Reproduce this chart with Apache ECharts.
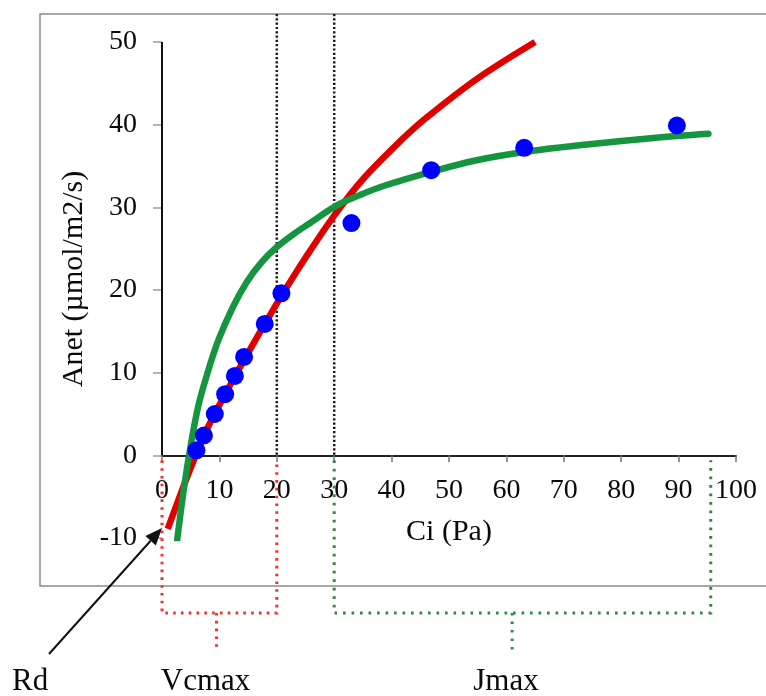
<!DOCTYPE html>
<html>
<head>
<meta charset="utf-8">
<script src="https://cdn.jsdelivr.net/npm/echarts@6/dist/echarts.min.js"></script>
<style>
html,body{margin:0;padding:0;background:#fff;}
#chart{width:766px;height:696px;}
</style>
</head>
<body>
<div id="chart"></div>
<script>
// ---- data ----
const xTicks = [0, 10, 20, 30, 40, 50, 60, 70, 80, 90, 100];
const yTicks = [-10, 0, 10, 20, 30, 40, 50];

// measured points (blue dots)
const obsCi = [6.0, 7.3, 9.2, 11.0, 12.7, 14.3, 17.9, 20.8, 33.0, 46.9, 63.1, 89.7];
const obsA  = [0.6, 2.4, 5.0, 7.4, 9.6, 11.9, 15.9, 19.6, 28.1, 34.5, 37.2, 39.9];

// Rubisco-limited (Vcmax) fitted curve, red
const vcCi = [1.0, 3.5, 6.0, 8.0, 10, 12.5, 15, 18, 21, 25, 30, 35, 41.5, 46, 55, 65];
const vcA  = [-8.9, -4.2, 0.2, 3.4, 6.1, 9.3, 12.4, 16.0, 19.5, 23.9, 29.0, 33.4, 38.0, 40.8, 45.6, 50];

// RuBP-regeneration-limited (Jmax) fitted curve, green
const jCi = [2.65, 3.7, 4.76, 6.3, 7.9, 9.8, 12.4, 14.8, 17.4, 20.0, 23.0, 25.8, 30.4, 34.5, 39.1, 46.9, 54.8, 63.1, 74, 85.6, 95.2];
const jA  = [-10.2, -4.6, 0.2, 5.9, 9.9, 13.9, 18.0, 21.0, 23.4, 25.2, 26.8, 28.1, 30.2, 31.5, 32.7, 34.3, 35.7, 36.7, 37.6, 38.4, 38.9];

// annotation anchors (in data units)
const rdPoint = [0, -8.8];          // Rd intercept pointed at by the arrow
const limitLines = [20, 30];        // black dotted transition lines
const vcRange = [0, 20, 9.5];       // left, right, tick position of Vcmax bracket
const jRange  = [30, 95.6, 61];     // left, right, tick position of Jmax bracket
const labels = { rd: 'Rd', vc: 'Vcmax', j: 'Jmax' };

const serif = "'Liberation Serif', 'DejaVu Serif', serif";
const zip = (a, b) => a.map((v, i) => [v, b[i]]);

const chart = echarts.init(document.getElementById('chart'), null, { renderer: 'canvas' });

chart.setOption({
  animation: false,
  backgroundColor: '#fff',
  grid: { left: 162, right: 30, top: 42, bottom: 158, containLabel: false },
  xAxis: {
    type: 'value', min: 0, max: 100, interval: 10, position: 'bottom',
    name: 'Ci (Pa)', nameLocation: 'middle', nameGap: 62,
    nameTextStyle: { fontFamily: serif, fontSize: 30, color: '#0a0a0a' },
    axisLine: { show: true, onZero: false, lineStyle: { color: '#222', width: 2 } },
    axisTick: { show: true, length: 7, lineStyle: { color: '#777', width: 1.5 } },
    axisLabel: { fontFamily: serif, fontSize: 28, color: '#0a0a0a', margin: 21,
      formatter: v => xTicks.includes(v) ? String(v) : '' },
    splitLine: { show: false }
  },
  yAxis: {
    type: 'value', min: -10, max: 50, interval: 10,
    name: 'Anet (µmol/m2/s)', nameLocation: 'middle', nameGap: 64,
    nameTextStyle: { fontFamily: serif, fontSize: 30, color: '#0a0a0a', padding: [0, 0, 0, 22] },
    axisLine: { show: false },
    axisTick: { show: true, length: 9, lineStyle: { color: '#999', width: 1.5 } },
    axisLabel: { fontFamily: serif, fontSize: 28, color: '#0a0a0a', margin: 25,
      formatter: v => yTicks.includes(v) ? String(v) : '' },
    splitLine: { show: false }
  },
  series: [
    {
      name: 'Vcmax', type: 'line', data: zip(vcCi, vcA), smooth: 0.35,
      showSymbol: false, symbol: 'none', z: 3,
      lineStyle: { color: '#e00000', width: 6.5 }
    },
    {
      name: 'Jmax', type: 'line', data: zip(jCi, jA), smooth: 0.35,
      showSymbol: false, symbol: 'none', z: 4,
      lineStyle: { color: '#15953f', width: 6.5, cap: 'round' }
    },
    {
      name: 'Observed', type: 'scatter', data: zip(obsCi, obsA), z: 5,
      symbol: 'circle', symbolSize: 18,
      itemStyle: { color: '#0000ff', opacity: 1 }
    }
  ]
});

// ---- annotations positioned through the chart's own scales ----
const P = (x, y) => chart.convertToPixel({ gridIndex: 0 }, [x, y]);
const y0 = P(0, 0)[1];
const yMin = P(0, -10)[1];
const boxTop = 14, boxBottom = 586, brY = 613, brTickY = 650, brTop = y0 + 5;

const g = [];
// outer frame
g.push({ type: 'rect', shape: { x: 40, y: boxTop, width: 740, height: boxBottom - boxTop },
  style: { fill: null, stroke: '#8c8c8c', lineWidth: 1.5 }, z: 0, silent: true });
// y-axis line (from 0 to 50 only, as in the reference)
const ya = P(0, 0), yb = P(0, 50);
g.push({ type: 'line', shape: { x1: ya[0], y1: ya[1], x2: yb[0], y2: yb[1] },
  style: { stroke: '#111', lineWidth: 2 }, z: 10, silent: true });
// black dotted limit lines
limitLines.forEach(c => {
  const px = P(c, 0)[0];
  g.push({ type: 'line', shape: { x1: px, y1: boxTop, x2: px, y2: y0 },
    style: { stroke: '#1a1a1a', lineWidth: 2.5, lineDash: [2.2, 2.1] }, z: 1, silent: true });
});
// brackets
function bracket(r, color, dash) {
  const xl = P(r[0], 0)[0], xr = P(r[1], 0)[0], xm = P(r[2], 0)[0];
  g.push({ type: 'polyline', shape: { points: [[xl, brTop], [xl, brY], [xr, brY], [xr, brTop]] },
    style: { stroke: color, lineWidth: 3, lineDash: dash, fill: null }, z: 1, silent: true });
  g.push({ type: 'line', shape: { x1: xm, y1: brY, x2: xm, y2: brTickY },
    style: { stroke: color, lineWidth: 3, lineDash: dash }, z: 1, silent: true });
}
bracket(vcRange, '#ff2a2a', [2.6, 5.2]);
bracket(jRange, '#2e8b3e', [2.6, 5.9]);

// arrow to Rd
const tip = P(rdPoint[0], rdPoint[1]);
const start = [49, 654];
const dx = tip[0] - start[0], dy = tip[1] - start[1];
const len = Math.hypot(dx, dy), ux = dx / len, uy = dy / len;
const headL = 17, headW = 7;
const bx = tip[0] - ux * headL, by = tip[1] - uy * headL;
g.push({ type: 'line', shape: { x1: start[0], y1: start[1], x2: bx, y2: by },
  style: { stroke: '#111', lineWidth: 2 }, z: 12, silent: true });
g.push({ type: 'polygon', shape: { points: [tip, [bx - uy * headW, by + ux * headW], [bx + uy * headW, by - ux * headW]] },
  style: { fill: '#111' }, z: 12, silent: true });

// bottom labels
const lab = (text, x, align) => ({ type: 'text', x: x, y: 666, z: 12, silent: true,
  style: { text: text, fontFamily: serif, fontSize: 31, fill: '#0a0a0a', align: align, verticalAlign: 'top' } });
g.push(lab(labels.rd, 12, 'left'));
g.push(lab(labels.vc, 205.5, 'center'));
g.push(lab(labels.j, 506, 'center'));

// move the value axis up so it crosses at Anet = 0 (offset in pixels from the scale)
chart.setOption({ xAxis: { offset: -(yMin - y0) }, graphic: g });
</script>
</body>
</html>
